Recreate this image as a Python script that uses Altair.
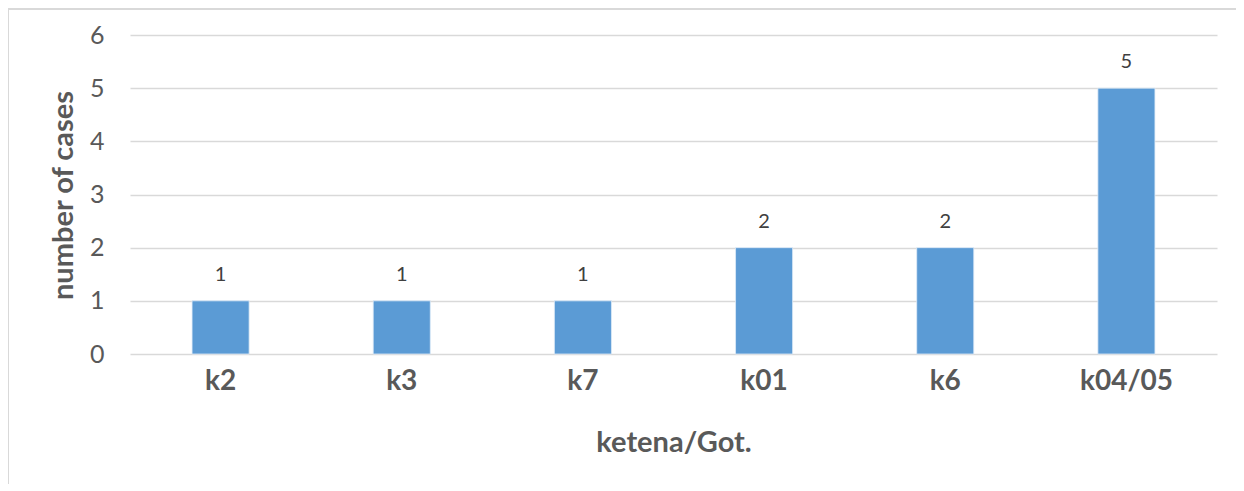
import altair as alt
import pandas as pd

categories = ["k2", "k3", "k7", "k01", "k6", "k04/05"]
cases = [1, 1, 1, 2, 2, 5]

df = pd.DataFrame({"cat": categories, "cases": cases})
frame = pd.DataFrame({"a": [0]})

FONT = "Lato"
GRAY = "#595959"

x = alt.X("cat:N", sort=categories,
          scale=alt.Scale(paddingInner=0.685, paddingOuter=0.3425),
          axis=alt.Axis(title="ketena/Got.", labelAngle=0, labelFont=FONT,
                        labelFontSize=28, labelFontWeight="bold", labelColor=GRAY,
                        labelPadding=13, titleFont=FONT, titleFontSize=29,
                        titleFontWeight="bold", titleColor=GRAY, titlePadding=33,
                        ticks=False, domain=False, grid=False))
y = alt.Y("cases:Q", scale=alt.Scale(domain=[0, 6], nice=False),
          axis=alt.Axis(title="number of cases", values=[0, 1, 2, 3, 4, 5, 6],
                        labelFont=FONT, labelFontSize=25, labelColor=GRAY,
                        labelPadding=26, titleFont=FONT, titleFontSize=29,
                        titleFontWeight="bold", titleColor=GRAY,
                        titleX=-67, titleY=160, titleBaseline="middle", titleAngle=270,
                        ticks=False, domain=False, grid=True, gridColor="#D9D9D9",
                        gridWidth=1.5))

bars = alt.Chart(df).mark_bar(color="#5B9BD5", stroke="#DEEBF7", strokeWidth=0.8).encode(x=x, y=y)
labels = alt.Chart(df).mark_text(dy=-26, font=FONT, fontSize=20, color="#404040").encode(
    x=x, y=y, text="cases:Q")

left_border = alt.Chart(frame).mark_rule(color="#D9D9D9", strokeWidth=2).encode(
    x=alt.value(-122), y=alt.value(-27), y2=alt.value(480))
top_border = alt.Chart(frame).mark_rule(color="#D9D9D9", strokeWidth=2).encode(
    x=alt.value(-122), x2=alt.value(1120), y=alt.value(-26))

chart = alt.layer(left_border, top_border, bars, labels).properties(
    width=1087, height=319,
    autosize=alt.AutoSizeParams(type="none"),
    padding={"left": 122, "top": 27, "right": 19, "bottom": 130},
).configure(background="white").configure_view(stroke=None)

chart.save("out.html", embed_options={"renderer": "svg", "actions": False})
